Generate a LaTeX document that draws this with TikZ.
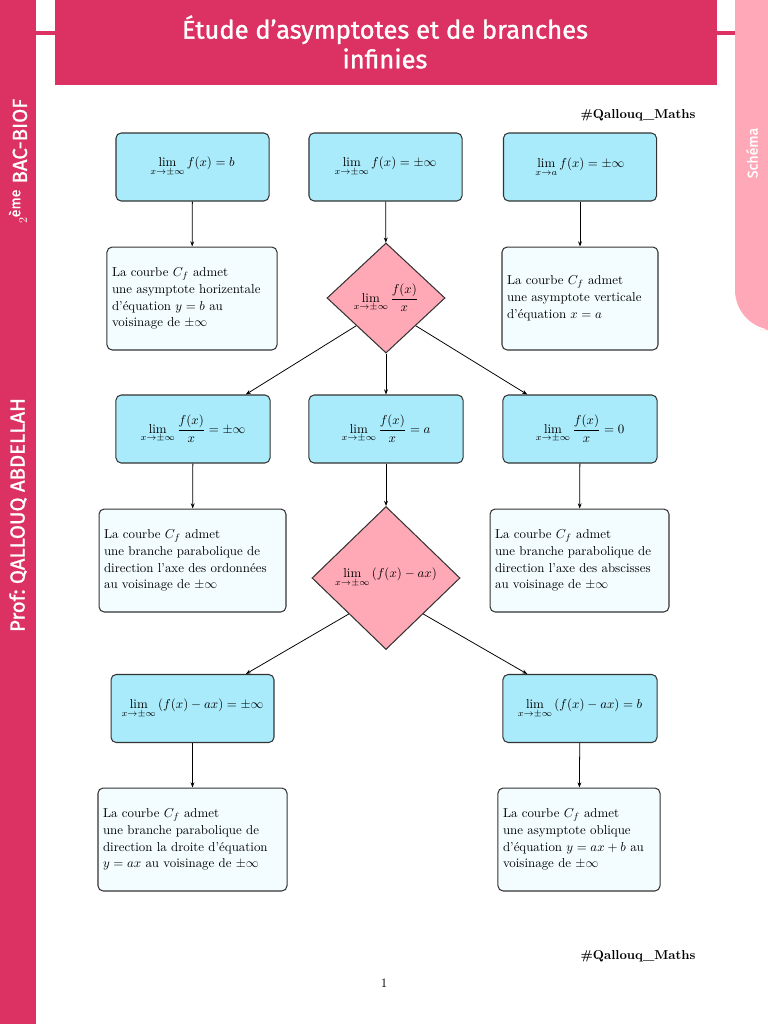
\documentclass[tikz,border=0pt]{standalone}
\usepackage{fontspec}
\newfontfamily\sansf{Fira Sans}[UprightFeatures={FakeBold=1.2}]
\usetikzlibrary{shapes.geometric,arrows.meta,calc}
\definecolor{crimson}{HTML}{DC3163}
\definecolor{tabpink}{HTML}{FFA8B8}
\definecolor{boxblue}{HTML}{AAEBFB}
\definecolor{boxlight}{HTML}{F3FDFF}
\definecolor{diapink}{HTML}{FFA9B6}
\definecolor{edgegray}{HTML}{333333}
\newcommand\Ln[1]{\mbox{#1}}
\tikzset{
  bluebox/.style={draw=edgegray, line width=0.8pt, fill=boxblue, rounded corners=4pt,
    minimum height=52.7pt, minimum width=118.6pt, inner sep=2pt, align=center},
  textbox/.style={draw=edgegray, line width=0.8pt, fill=boxlight, rounded corners=4pt,
    minimum height=79.8pt, inner xsep=3.9pt, inner ysep=2pt, align=left,
    font=\fontsize{10}{13}\selectfont},
  decide/.style={diamond, draw=edgegray, line width=0.8pt, fill=diapink, inner sep=0pt},
  arr/.style={-{Stealth[length=4pt,width=3pt]}, line width=0.6pt, black},
  sidetext/.style={rotate=90, text=white, font=\sansf\fontsize{15.8}{18}\selectfont},
}
\begin{document}
\begin{tikzpicture}[x=0.775pt, y=-0.775pt]
\useasboundingbox (0,0) rectangle (768,1024);
% frame decorations
\fill[crimson] (0,0) rectangle (36,1024);
\fill[crimson] (55,0) rectangle (717,85);
\fill[crimson] (36,31) rectangle (55,35);
\fill[crimson] (717,31) rectangle (735,35);
\fill[tabpink, rounded corners=31pt] (735,-60) rectangle (800,330);
\node[text=white, align=center, font=\sansf\fontsize{19.8}{23}\selectfont] (title) at (385,42)
  {Étude d’asymptotes et de branches\\infinies};
\node[sidetext] (prof) at (18,515) {Prof:\ QALLOUQ ABDELLAH};
\node[sidetext] (level) at (18,161) {{\rmfamily\small 2}\textsuperscript{ème} BAC-BIOF};
\node[rotate=90, text=white, font=\sansf\fontsize{11}{13}\selectfont] (tab) at (752,153) {Schéma};
\node[anchor=east] (tagtop) at (700,115) {\textbf{\#Qallouq\_Maths}};
\node[anchor=east] (tagbot) at (700,956) {\textbf{\#Qallouq\_Maths}};
\node (pagenum) at (384,983) {1};

% row 1
\node[bluebox] (b1) at (192.5,167) {$\displaystyle\lim_{x\to\pm\infty} f(x)=b$};
\node[bluebox] (b2) at (385.5,167) {$\displaystyle\lim_{x\to\pm\infty} f(x)=\pm\infty$};
\node[bluebox] (b3) at (580,167) {$\displaystyle\lim_{x\to a} f(x)=\pm\infty$};
% row 2
\node[textbox, text width=124pt] (t1) at (192,298.5)
  {\Ln{La courbe $C_f$ admet}\\\Ln{une asymptote horizentale}\\\Ln{d’équation $y=b$ au}\\\Ln{voisinage de $\pm\infty$}};
\node[decide, minimum width=91.5pt, minimum height=85.3pt] (d1) at (386,298)
  {$\displaystyle\lim_{x\to\pm\infty}\frac{f(x)}{x}$};
\node[textbox, text width=113.1pt] (t2) at (580,298.5)
  {\Ln{La courbe $C_f$ admet}\\\Ln{une asymptote verticale}\\\Ln{d’équation $x=a$}};
% row 3
\node[bluebox, minimum width=119.4pt] (b4) at (193,429) {$\displaystyle\lim_{x\to\pm\infty}\frac{f(x)}{x}=\pm\infty$};
\node[bluebox, minimum width=119.4pt] (b5) at (386,429) {$\displaystyle\lim_{x\to\pm\infty}\frac{f(x)}{x}=a$};
\node[bluebox, minimum width=119.4pt] (b6) at (580,429) {$\displaystyle\lim_{x\to\pm\infty}\frac{f(x)}{x}=0$};
% row 4
\node[textbox, text width=137.1pt] (t3) at (192.5,560.5)
  {\Ln{La courbe $C_f$ admet}\\\Ln{une branche parabolique de}\\\Ln{direction l’axe des ordonnées}\\\Ln{au voisinage de $\pm\infty$}};
\node[decide, minimum width=114.7pt, minimum height=110.8pt] (d2) at (386,578)
  {$\displaystyle\lim_{x\to\pm\infty}\,(f(x)-ax)$};
\node[textbox, text width=130.9pt] (t4) at (579.5,560.5)
  {\Ln{La courbe $C_f$ admet}\\\Ln{une branche parabolique de}\\\Ln{direction l’axe des abscisses}\\\Ln{au voisinage de $\pm\infty$}};
% row 5
\node[bluebox, minimum width=126.3pt] (b7) at (192.5,708.5) {$\displaystyle\lim_{x\to\pm\infty}\,(f(x)-ax)=\pm\infty$};
\node[bluebox, minimum width=119.4pt] (b8) at (580,708.5) {$\displaystyle\lim_{x\to\pm\infty}\,(f(x)-ax)=b$};
% row 6
\node[textbox, text width=138.7pt] (t5) at (192.5,839.5)
  {\Ln{La courbe $C_f$ admet}\\\Ln{une branche parabolique de}\\\Ln{direction la droite d’équation}\\\Ln{$y=ax$ au voisinage de $\pm\infty$}};
\node[textbox, text width=117.8pt] (t6) at (579,839.5)
  {\Ln{La courbe $C_f$ admet}\\\Ln{une asymptote oblique}\\\Ln{d’équation $y=ax+b$ au}\\\Ln{voisinage de $\pm\infty$}};

% connectors
\draw[arr] (b1) -- (t1);
\draw[arr] (b2) -- (d1);
\draw[arr] (b3) -- (t2);
\draw[arr] (d1.south west) -- ($(b4.north)!0.68!(b4.north east)$);
\draw[arr] (d1.south) -- (b5.north);
\draw[arr] (d1.south east) -- ($(b6.north)!0.68!(b6.north west)$);
\draw[arr] (b4) -- (t3);
\draw[arr] (b5) -- (d2);
\draw[arr] (b6) -- (t4);
\draw[arr] (d2.south west) -- ($(b7.north)!0.65!(b7.north east)$);
\draw[arr] (d2.south east) -- ($(b8.north)!0.68!(b8.north west)$);
\draw[arr] (b7) -- (t5);
\draw[arr] (b8) -- (t6);
\end{tikzpicture}
\end{document}
